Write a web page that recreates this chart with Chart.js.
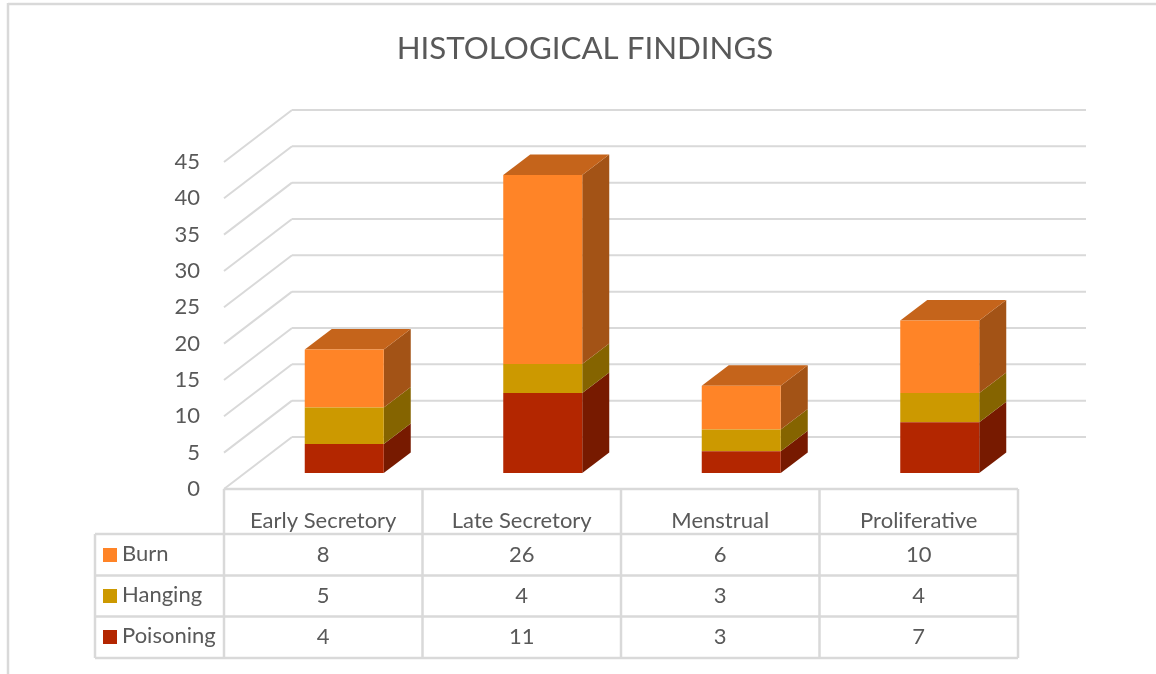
<!DOCTYPE html>
<html lang="en">
<head>
    <meta charset="UTF-8">
    <title>Histological Findings</title>
    <script src="https://cdn.jsdelivr.net/npm/chart.js"></script>
    <style>
        html, body { margin: 0; padding: 0; background: #fff; }
        canvas { display: block; }
    </style>
</head>
<body>
    <canvas id="findingsChart" width="1156" height="674"></canvas>

    <script>
        // chart data
        const categories = ['Early Secretory', 'Late Secretory', 'Menstrual', 'Proliferative'];
        const burn = [8, 26, 6, 10];
        const hanging = [5, 4, 3, 4];
        const poisoning = [4, 11, 3, 7];

        const textColor = '#595959';
        const lineColor = '#d9d9d9';
        const fontFamily = 'Lato, "Open Sans", sans-serif';

        // 3D look: front = axis/table plane, back = wall, depth = bar depth
        const front = { dx: -21, dy: 16 };
        const back = { dx: 47, dy: -36 };
        const depth = { dx: 27, dy: -20.5 };

        function line(ctx, x1, y1, x2, y2) {
            ctx.beginPath();
            ctx.moveTo(x1, y1);
            ctx.lineTo(x2, y2);
            ctx.stroke();
        }

        function face(ctx, color, pts) {
            ctx.fillStyle = color;
            ctx.beginPath();
            pts.forEach((p, i) => i ? ctx.lineTo(p[0], p[1]) : ctx.moveTo(p[0], p[1]));
            ctx.closePath();
            ctx.fill();
        }

        // walls and side/top faces of the bars, behind the library's own bars
        const wallsAndFaces = {
            id: 'wallsAndFaces',
            beforeDatasetsDraw(chart) {
                const { ctx, chartArea, scales } = chart;
                ctx.save();

                ctx.strokeStyle = lineColor;
                ctx.lineWidth = 2;
                scales.y.ticks.forEach(t => {
                    const y = scales.y.getPixelForValue(t.value);
                    const xb = chartArea.left + back.dx;
                    line(ctx, chartArea.left + front.dx, y + front.dy, xb, y + back.dy);
                    line(ctx, xb, y + back.dy, chartArea.right + back.dx, y + back.dy);
                });

                chart.data.datasets.forEach((ds, d) => {
                    chart.getDatasetMeta(d).data.forEach(bar => {
                        const right = bar.x + bar.width / 2;
                        const left = bar.x - bar.width / 2;
                        face(ctx, ds.sideColor, [
                            [right, bar.y], [right + depth.dx, bar.y + depth.dy],
                            [right + depth.dx, bar.base + depth.dy], [right, bar.base]
                        ]);
                        if (d === chart.data.datasets.length - 1) {
                            face(ctx, ds.topColor, [
                                [left, bar.y], [left + depth.dx, bar.y + depth.dy],
                                [right + depth.dx, bar.y + depth.dy], [right, bar.y]
                            ]);
                        }
                    });
                });
                ctx.restore();
            }
        };

        // data table under the chart + outer frame
        const dataTable = {
            id: 'dataTable',
            afterDraw(chart) {
                const { ctx, chartArea, scales } = chart;
                const colW = (chartArea.right - chartArea.left) / categories.length;
                const tableL = chartArea.left + front.dx;
                const tableR = chartArea.right + front.dx;
                const keyL = 95;
                const rows = [489, 534, 575.5, 616.5, 658];
                const datasets = chart.data.datasets.slice().reverse();

                ctx.save();
                ctx.strokeStyle = lineColor;
                ctx.lineWidth = 2.5;

                // frame
                line(ctx, 8, 3, 8, 674);
                line(ctx, 8, 4, 1156, 4);

                // column lines
                for (let c = 0; c <= categories.length; c++) {
                    const x = tableL + c * colW;
                    line(ctx, x, rows[0], x, rows[4]);
                }
                line(ctx, keyL, rows[1], keyL, rows[4]);

                // row lines
                line(ctx, tableL, rows[0], tableR, rows[0]);
                for (let r = 1; r < rows.length; r++) {
                    line(ctx, keyL, rows[r], tableR, rows[r]);
                }

                ctx.font = '22px ' + fontFamily;
                ctx.textBaseline = 'middle';
                datasets.forEach((ds, r) => {
                    const yc = (rows[r + 1] + rows[r + 2]) / 2;
                    ctx.fillStyle = ds.backgroundColor;
                    ctx.fillRect(103, Math.round(yc) - 7, 14, 14);
                    ctx.fillStyle = textColor;
                    ctx.textAlign = 'left';
                    ctx.fillText(ds.label, 122, yc - 1);
                    ctx.textAlign = 'center';
                    ds.data.forEach((v, c) => {
                        ctx.fillText(String(v), scales.x.getPixelForTick(c) + front.dx, yc);
                    });
                });
                ctx.restore();
            }
        };

        const ctx = document.getElementById('findingsChart').getContext('2d');
        const findingsChart = new Chart(ctx, {
            type: 'bar',
            data: {
                labels: categories,
                datasets: [
                    { label: 'Poisoning', data: poisoning, backgroundColor: '#b32600', sideColor: '#771a00', topColor: '#8f2000' },
                    { label: 'Hanging', data: hanging, backgroundColor: '#cc9900', sideColor: '#856400', topColor: '#a07800' },
                    { label: 'Burn', data: burn, backgroundColor: '#ff8427', sideColor: '#a35316', topColor: '#c5641b' }
                ]
            },
            options: {
                responsive: false,
                animation: false,
                layout: { padding: { left: 131, right: 117 } },
                plugins: {
                    legend: { display: false },
                    tooltip: { enabled: false },
                    title: {
                        display: true,
                        text: 'HISTOLOGICAL FINDINGS',
                        color: textColor,
                        font: { family: fontFamily, size: 31.3, weight: 'normal' },
                        padding: { top: 30, bottom: 78.4 }
                    }
                },
                datasets: { bar: { barPercentage: 0.398, categoryPercentage: 1 } },
                scales: {
                    x: {
                        stacked: true,
                        grid: { display: false },
                        border: { display: false },
                        afterFit(scale) { scale.height = 201; },
                        ticks: {
                            color: textColor,
                            font: { family: fontFamily, size: 22 },
                            padding: 27,
                            labelOffset: front.dx,
                            maxRotation: 0,
                            autoSkip: false
                        }
                    },
                    y: {
                        stacked: true,
                        min: 0,
                        max: 45,
                        grid: { display: false },
                        border: { display: false },
                        afterFit(scale) { scale.width = 114; },
                        ticks: {
                            stepSize: 5,
                            color: textColor,
                            font: { family: fontFamily, size: 22 },
                            padding: 37,
                            labelOffset: front.dy
                        }
                    }
                }
            },
            plugins: [wallsAndFaces, dataTable]
        });
    </script>
</body>
</html>
